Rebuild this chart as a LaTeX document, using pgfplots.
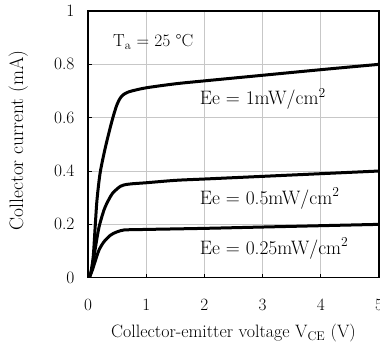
\documentclass[border=0pt]{standalone}
\usepackage{pgfplots}
\pgfplotsset{compat=1.18}
\begin{document}
\begin{tikzpicture}[font=\fontsize{17.5}{20}\selectfont]
\begin{axis}[
  scale only axis,
  width=291bp, height=266.7bp,
  xmin=0, xmax=5, ymin=0, ymax=1,
  xtick={0,1,2,3,4,5},
  ytick={0,0.2,0.4,0.6,0.8,1},
  yticklabels={0,0.2,0.4,0.6,0.8,1},
  grid=major,
  major grid style={draw=black!22, line width=1bp},
  axis line style={line width=1.1bp},
  tick align=inside,
  major tick length=4bp,
  tick style={black, line width=1bp},
  xtick pos=bottom, ytick pos=left,
  x tick label style={yshift=-18bp},
  y tick label style={xshift=-10bp},
  xlabel={Collector-emitter voltage V\textsubscript{CE} (V)},
  ylabel={Collector current (mA)},
  xlabel style={at={(axis description cs:0.5,-0.207)}, anchor=center, font=\fontsize{18}{20}\selectfont},
  ylabel style={at={(axis description cs:-0.24,0.515)}, anchor=center, font=\fontsize{19.5}{20}\selectfont},
  clip=true,
]
\addplot[black, line width=3bp, smooth, tension=0.5, no markers] coordinates {(0,0) (0.03,0.005) (0.05,0.02) (0.09,0.08) (0.12,0.18) (0.15,0.28) (0.18,0.345) (0.21,0.395) (0.25,0.44) (0.3,0.49) (0.35,0.535) (0.40,0.578) (0.45,0.617) (0.5,0.65) (0.55,0.672) (0.6,0.685) (0.67,0.694) (0.75,0.70) (1,0.712) (1.5,0.727) (2,0.738) (3,0.759) (4,0.78) (5,0.80)};
\addplot[black, line width=3bp, smooth, tension=0.5, no markers] coordinates {(0,0) (0.03,0.005) (0.075,0.04) (0.13,0.116) (0.19,0.19) (0.275,0.254) (0.35,0.29) (0.42,0.316) (0.5,0.333) (0.56,0.343) (0.62,0.348) (0.75,0.352) (1,0.356) (1.5,0.365) (2,0.37) (3,0.38) (4,0.39) (5,0.40)};
\addplot[black, line width=3bp, smooth, tension=0.5, no markers] coordinates {(0,0) (0.03,0.005) (0.075,0.029) (0.13,0.066) (0.19,0.104) (0.275,0.135) (0.39,0.16) (0.5,0.172) (0.62,0.179) (0.8,0.18) (1,0.181) (2,0.185) (3,0.19) (4,0.195) (5,0.20)};
\node[anchor=base west, inner sep=0] at (axis cs:0.43,0.866) {T\textsubscript{a} = 25 \textdegree C};
\node[anchor=base west, inner sep=0, font=\fontsize{19.5}{20}\selectfont] at (axis cs:1.92,0.648) {Ee = 1mW/cm\textsuperscript{2}};
\node[anchor=base west, inner sep=0, font=\fontsize{19.5}{20}\selectfont] at (axis cs:1.92,0.275) {Ee = 0.5mW/cm\textsuperscript{2}};
\node[anchor=base west, inner sep=0, font=\fontsize{19.5}{20}\selectfont] at (axis cs:1.92,0.088) {Ee = 0.25mW/cm\textsuperscript{2}};
\end{axis}
\pgfresetboundingbox
\useasboundingbox (-88bp,-71.3bp) rectangle (292bp,277.7bp);
\end{tikzpicture}
\end{document}
